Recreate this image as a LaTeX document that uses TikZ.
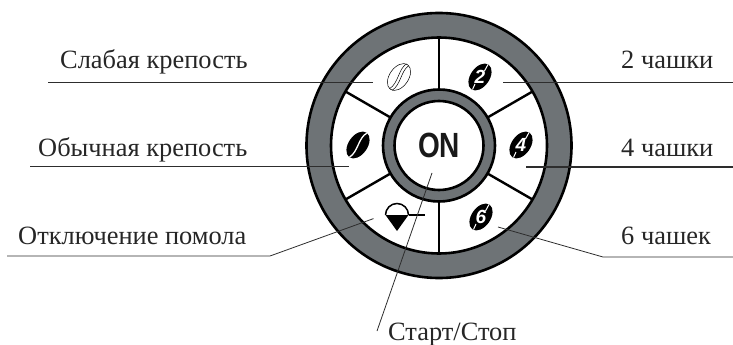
\documentclass[tikz,border=0pt]{standalone}
\usepackage{fontspec}
\setmainfont{Liberation Serif}
\newfontfamily\onfont{Liberation Sans}
\definecolor{ringgray}{RGB}{110,115,118}
\definecolor{leadgray}{RGB}{45,45,45}
\tikzset{
  lab/.style={font=\fontsize{26.4}{28}\selectfont,text=black!85,inner sep=0pt,anchor=base west},
  leader/.style={draw=leadgray,line width=0.8pt},
  ringline/.style={draw=black,line width=2.6pt,fill=#1},
  spoke/.style={draw=black,line width=2.4pt},
  num/.style={text=white,font=\onfont\bfseries\itshape\fontsize{19}{19}\selectfont,inner sep=0pt},
  pics/bean/.style={code={
    \fill[black,rotate=-35] (0,0) ellipse (9.5 and 15);
    \node[num] at (0,0) {#1};
    \draw[white,line width=1pt] (8,-12.5) -- (4.5,-6) (-7.5,12.5) -- (-5,7);
  }},
}
\begin{document}
\begin{tikzpicture}[x=1pt,y=-1pt]
\useasboundingbox (0,0) rectangle (733,345);
\coordinate (c) at (439,145.5);
% ring and hub
\path[ringline=ringgray] (c) circle (132.5);
\path[ringline=white] (c) circle (108);
\foreach \a in {90,270,30,150,210,330}{
  \draw[spoke] (c) -- +(\a:108);
}
\path[ringline=ringgray] (c) circle (56);
\path[ringline=white] (c) circle (44.5);
\node[inner sep=0pt,font=\onfont\bfseries\fontsize{35}{35}\selectfont,text=black!90,xscale=0.8] (on) at (439,145.5) {ON};
% beans
\begin{scope}[shift={(399,77)},rotate=-35]
  \draw[black,line width=0.5pt,fill=white] (0,0) ellipse (9.5 and 15);
  \draw[black,line width=0.5pt] (-1.5,-15) .. controls (-5,-6) and (3,5) .. (-1,15);
  \draw[black,line width=0.5pt] (1.5,-15) .. controls (-2,-6) and (6,5) .. (2,15);
\end{scope}
\begin{scope}[shift={(358,145)},rotate=-35]
  \fill[black] (0,0) ellipse (9.5 and 15);
  \draw[white,line width=1.3pt] (0.5,-15) .. controls (-4,-6) and (4,5) .. (0,15);
\end{scope}
\pic at (480,77) {bean={2}};
\pic at (521,145) {bean={4}};
\pic at (481,217) {bean={6}};
% grinder symbol
\coordinate (gl) at (385.5,215);
\coordinate (gr) at (408.5,215);
\coordinate (ga) at (397,231);
\coordinate (ge) at (425,215);
\fill[black] (gl) -- (gr) -- (ga) -- cycle;
\draw[black,line width=1.5pt] (gl) arc[start angle=180,end angle=360,radius=11.5];
\draw[black,line width=1.5pt] (gr) -- (ge);
% labels
\node[lab] (l1) at (60,68) {Слабая крепость};
\node[lab] (l2) at (38,156) {Обычная крепость};
\node[lab] (l3) at (18,244) {Отключение помола};
\node[lab] (r1) at (621,68) {2 чашки};
\node[lab] (r2) at (621,156) {4 чашки};
\node[lab] (r3) at (621,244) {6 чашек};
\node[lab] (s) at (388,340) {Старт/Стоп};
% leaders
\coordinate (a1) at (48,82);   \coordinate (b1) at (373,82);
\coordinate (a2) at (30,166);  \coordinate (b2) at (349,166);
\coordinate (a3) at (7,256);   \coordinate (k3) at (270,256);  \coordinate (b3) at (373.5,218.6);
\coordinate (a4) at (733,82);  \coordinate (b4) at (503,82);
\coordinate (a5) at (733,167); \coordinate (b5) at (526,167);
\coordinate (a6) at (733,257); \coordinate (k6) at (603,257);  \coordinate (b6) at (498,227);
\coordinate (a7) at (377,331); \coordinate (b7) at (432,173);
\draw[leader] (a1) -- (b1);
\draw[leader] (a2) -- (b2);
\draw[leader] (a3) -- (k3) -- (b3);
\draw[leader] (a4) -- (b4);
\draw[leader,line width=1.1pt] (a5) -- (b5);
\draw[leader] (a6) -- (k6) -- (b6);
\draw[leader] (a7) -- (b7);
\end{tikzpicture}
\end{document}
